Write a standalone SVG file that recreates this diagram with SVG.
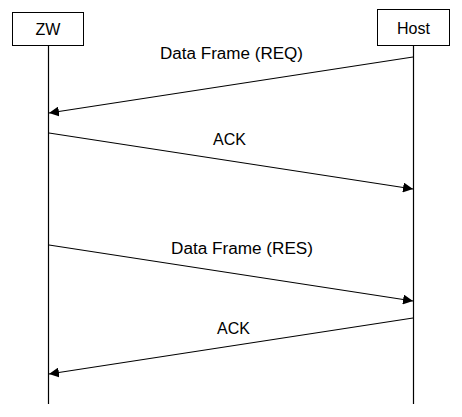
<svg xmlns="http://www.w3.org/2000/svg" width="462" height="417" viewBox="0 0 462 417">
<style>
.box{fill:#fff;stroke:#000;stroke-width:1}
.life{stroke:#000;stroke-width:1.2;fill:none}
.msg{stroke:#000;stroke-width:1.2;fill:none;marker-end:url(#ah)}
text{font-family:"Liberation Sans",Arial,sans-serif;font-size:16px;fill:#000}
</style>
<defs>
<marker id="ah" viewBox="0 0 10 10" refX="10" refY="5" markerWidth="10" markerHeight="10" markerUnits="userSpaceOnUse" orient="auto">
<path d="M0,0 L10,5 L0,10 Z" fill="#000"/>
</marker>
</defs>
<g id="zw">
<rect class="box" x="12.5" y="12.5" width="71" height="33"/>
<text x="48" y="35" text-anchor="middle">ZW</text>
<line class="life" x1="48.5" y1="46" x2="48.5" y2="404"/>
</g>
<g id="host">
<rect class="box" x="377.5" y="9.5" width="72" height="36"/>
<text x="413.5" y="34" text-anchor="middle">Host</text>
<line class="life" x1="413.5" y1="46" x2="413.5" y2="404"/>
</g>
<g id="connectors">
<line class="msg" x1="413" y1="57" x2="49" y2="113"/>
<text x="160" y="59" textLength="143" lengthAdjust="spacingAndGlyphs">Data Frame (REQ)</text>
<line class="msg" x1="49" y1="133" x2="413" y2="189"/>
<text x="213" y="145">ACK</text>
<line class="msg" x1="49" y1="245" x2="413" y2="301"/>
<text x="171" y="254" textLength="142" lengthAdjust="spacingAndGlyphs">Data Frame (RES)</text>
<line class="msg" x1="413" y1="318" x2="49" y2="374"/>
<text x="217" y="334">ACK</text>
</g>
</svg>
